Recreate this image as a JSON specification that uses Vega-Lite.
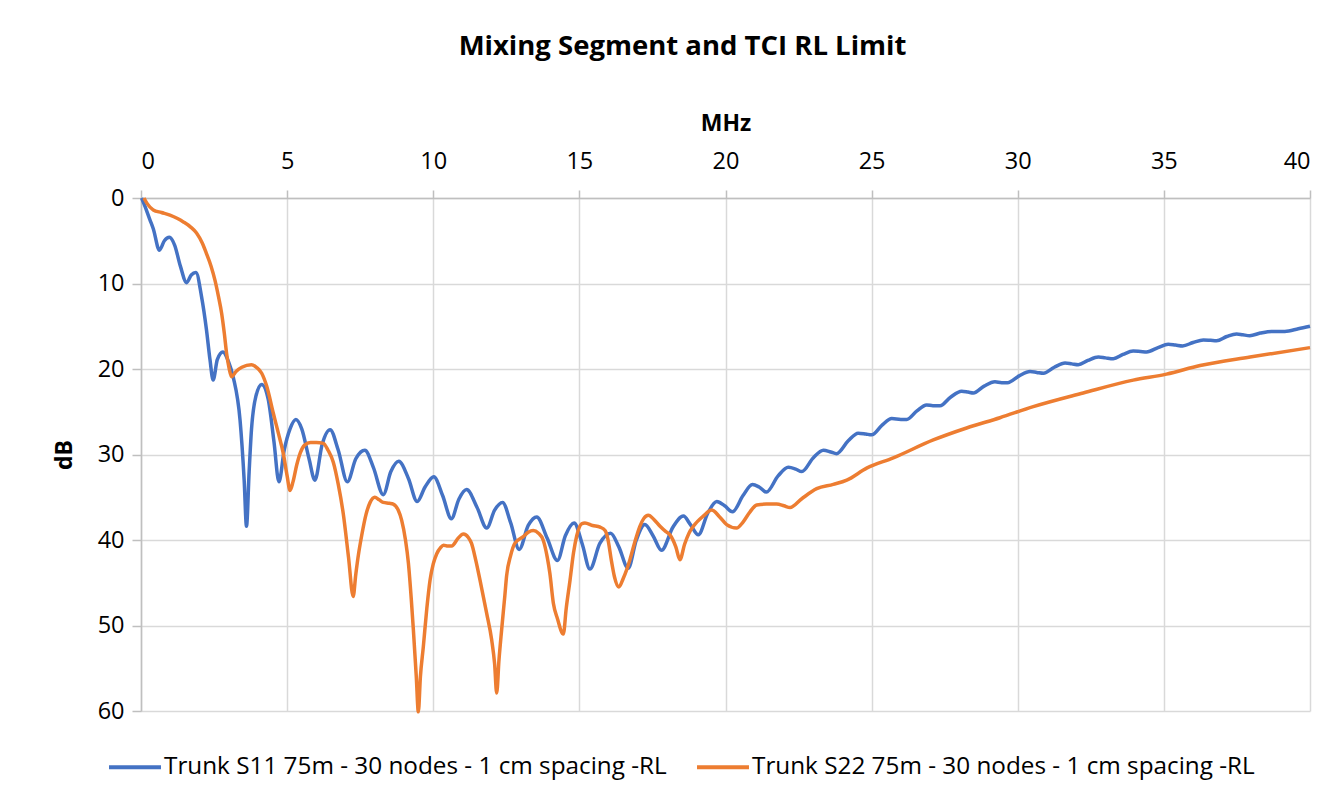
{
  "$schema": "https://vega.github.io/schema/vega-lite/v6.json",
  "autosize": {"type": "none"},
  "padding": {"left": 141, "top": 198, "right": 28, "bottom": 91},
  "width": 1169,
  "height": 513,
  "background": "white",
  "title": {
    "text": "Mixing Segment and TCI RL Limit",
    "font": "Open Sans",
    "fontSize": 27.5,
    "fontWeight": "bold",
    "color": "#000000",
    "anchor": "middle",
    "dx": -43,
    "offset": 52
  },
  "config": {
    "view": {"stroke": null},
    "font": "Open Sans"
  },
  "datasets": {
    "s11": [
      {"f":0.02,"dB":0},{"f":0.14,"dB":1.0},{"f":0.3,"dB":2.5},{"f":0.42,"dB":3.6},{"f":0.63,"dB":6.1},{"f":0.8,"dB":5.0},{"f":0.97,"dB":4.6},{"f":1.15,"dB":5.5},{"f":1.35,"dB":8.0},{"f":1.56,"dB":9.9},{"f":1.72,"dB":9.0},{"f":1.88,"dB":8.7},{"f":2.07,"dB":11.5},{"f":2.24,"dB":15.4},{"f":2.36,"dB":18.9},{"f":2.47,"dB":21.3},{"f":2.61,"dB":18.9},{"f":2.8,"dB":18.0},{"f":3.0,"dB":19.2},{"f":3.16,"dB":21.0},{"f":3.39,"dB":26.0},{"f":3.53,"dB":33.0},{"f":3.61,"dB":38.4},{"f":3.7,"dB":32},{"f":3.78,"dB":27.1},{"f":3.93,"dB":23.2},{"f":4.13,"dB":21.8},{"f":4.35,"dB":23.5},{"f":4.55,"dB":28.5},{"f":4.72,"dB":33.2},{"f":4.9,"dB":29.5},{"f":5.1,"dB":27},{"f":5.3,"dB":25.9},{"f":5.5,"dB":27.0},{"f":5.75,"dB":30.5},{"f":5.95,"dB":33.0},{"f":6.2,"dB":28.8},{"f":6.47,"dB":27.1},{"f":6.75,"dB":29.5},{"f":7.06,"dB":33.2},{"f":7.35,"dB":30.5},{"f":7.66,"dB":29.5},{"f":7.95,"dB":31.5},{"f":8.29,"dB":34.7},{"f":8.55,"dB":32},{"f":8.82,"dB":30.8},{"f":9.15,"dB":32.8},{"f":9.45,"dB":35.5},{"f":9.72,"dB":33.8},{"f":10.02,"dB":32.6},{"f":10.32,"dB":34.8},{"f":10.62,"dB":37.5},{"f":10.88,"dB":35.2},{"f":11.14,"dB":34.1},{"f":11.5,"dB":36.2},{"f":11.83,"dB":38.6},{"f":12.1,"dB":36.5},{"f":12.37,"dB":35.6},{"f":12.65,"dB":38},{"f":12.94,"dB":41.1},{"f":13.25,"dB":38.3},{"f":13.54,"dB":37.3},{"f":13.9,"dB":39.8},{"f":14.25,"dB":42.4},{"f":14.52,"dB":39.5},{"f":14.82,"dB":38.0},{"f":15.1,"dB":40.5},{"f":15.36,"dB":43.4},{"f":15.7,"dB":40.4},{"f":16.07,"dB":39.2},{"f":16.35,"dB":40.8},{"f":16.67,"dB":43.3},{"f":16.95,"dB":40},{"f":17.24,"dB":38.2},{"f":17.52,"dB":39.5},{"f":17.81,"dB":41.2},{"f":18.2,"dB":38.5},{"f":18.56,"dB":37.2},{"f":18.8,"dB":38.2},{"f":19.07,"dB":39.4},{"f":19.4,"dB":36.8},{"f":19.7,"dB":35.5},{"f":19.97,"dB":36.0},{"f":20.24,"dB":36.7},{"f":20.6,"dB":34.8},{"f":20.92,"dB":33.5},{"f":21.15,"dB":33.8},{"f":21.4,"dB":34.4},{"f":21.8,"dB":32.5},{"f":22.15,"dB":31.5},{"f":22.4,"dB":31.7},{"f":22.61,"dB":32.0},{"f":23.0,"dB":30.4},{"f":23.35,"dB":29.5},{"f":23.6,"dB":29.7},{"f":23.8,"dB":29.9},{"f":24.2,"dB":28.4},{"f":24.54,"dB":27.5},{"f":24.8,"dB":27.6},{"f":25.0,"dB":27.7},{"f":25.35,"dB":26.6},{"f":25.69,"dB":25.8},{"f":26.0,"dB":25.9},{"f":26.2,"dB":25.9},{"f":26.55,"dB":24.9},{"f":26.88,"dB":24.2},{"f":27.1,"dB":24.3},{"f":27.34,"dB":24.3},{"f":27.7,"dB":23.3},{"f":28.08,"dB":22.6},{"f":28.3,"dB":22.7},{"f":28.48,"dB":22.8},{"f":28.85,"dB":22.0},{"f":29.22,"dB":21.5},{"f":29.45,"dB":21.6},{"f":29.65,"dB":21.6},{"f":30.05,"dB":20.8},{"f":30.42,"dB":20.3},{"f":30.65,"dB":20.4},{"f":30.88,"dB":20.5},{"f":31.25,"dB":19.8},{"f":31.62,"dB":19.3},{"f":31.85,"dB":19.4},{"f":32.07,"dB":19.5},{"f":32.4,"dB":19.0},{"f":32.76,"dB":18.6},{"f":33.0,"dB":18.7},{"f":33.27,"dB":18.8},{"f":33.6,"dB":18.3},{"f":33.95,"dB":17.9},{"f":34.2,"dB":17.95},{"f":34.41,"dB":18.0},{"f":34.8,"dB":17.5},{"f":35.15,"dB":17.1},{"f":35.4,"dB":17.2},{"f":35.64,"dB":17.3},{"f":36.0,"dB":16.9},{"f":36.35,"dB":16.6},{"f":36.6,"dB":16.65},{"f":36.8,"dB":16.7},{"f":37.15,"dB":16.2},{"f":37.49,"dB":15.9},{"f":37.7,"dB":16.0},{"f":37.94,"dB":16.1},{"f":38.3,"dB":15.8},{"f":38.69,"dB":15.6},{"f":38.9,"dB":15.6},{"f":39.14,"dB":15.6},{"f":39.6,"dB":15.3},{"f":40.0,"dB":15.0}
    ],
    "s22": [
      {"f":0.1,"dB":0},{"f":0.2,"dB":0.6},{"f":0.42,"dB":1.4},{"f":0.7,"dB":1.7},{"f":0.99,"dB":2.0},{"f":1.25,"dB":2.4},{"f":1.45,"dB":2.8},{"f":1.7,"dB":3.4},{"f":1.9,"dB":4.1},{"f":2.1,"dB":5.3},{"f":2.24,"dB":6.5},{"f":2.4,"dB":8.0},{"f":2.53,"dB":9.6},{"f":2.65,"dB":11.5},{"f":2.76,"dB":13.5},{"f":2.85,"dB":15.8},{"f":2.93,"dB":18.2},{"f":3.02,"dB":20.0},{"f":3.1,"dB":20.9},{"f":3.25,"dB":20.3},{"f":3.45,"dB":19.8},{"f":3.78,"dB":19.5},{"f":3.95,"dB":19.8},{"f":4.13,"dB":20.5},{"f":4.3,"dB":22.0},{"f":4.53,"dB":25.2},{"f":4.7,"dB":27.5},{"f":4.87,"dB":29.9},{"f":5.0,"dB":32.5},{"f":5.1,"dB":34.2},{"f":5.2,"dB":33.2},{"f":5.33,"dB":31.2},{"f":5.45,"dB":29.8},{"f":5.6,"dB":28.9},{"f":5.8,"dB":28.6},{"f":6.0,"dB":28.6},{"f":6.24,"dB":28.7},{"f":6.4,"dB":29.5},{"f":6.58,"dB":30.9},{"f":6.75,"dB":33.5},{"f":6.92,"dB":36.9},{"f":7.1,"dB":42},{"f":7.26,"dB":46.6},{"f":7.35,"dB":44},{"f":7.45,"dB":41.5},{"f":7.55,"dB":39.5},{"f":7.7,"dB":37.0},{"f":7.84,"dB":35.6},{"f":8.0,"dB":35.0},{"f":8.15,"dB":35.3},{"f":8.29,"dB":35.6},{"f":8.5,"dB":35.7},{"f":8.63,"dB":35.8},{"f":8.8,"dB":36.5},{"f":8.92,"dB":37.7},{"f":9.05,"dB":40},{"f":9.15,"dB":42.7},{"f":9.25,"dB":47},{"f":9.32,"dB":50.5},{"f":9.42,"dB":56},{"f":9.49,"dB":60.1},{"f":9.56,"dB":56},{"f":9.66,"dB":52.5},{"f":9.78,"dB":48},{"f":9.89,"dB":44.7},{"f":10.0,"dB":42.8},{"f":10.12,"dB":41.6},{"f":10.25,"dB":40.9},{"f":10.35,"dB":40.6},{"f":10.5,"dB":40.7},{"f":10.63,"dB":40.7},{"f":10.85,"dB":39.8},{"f":11.03,"dB":39.3},{"f":11.2,"dB":39.7},{"f":11.31,"dB":40.4},{"f":11.45,"dB":42.3},{"f":11.6,"dB":44.7},{"f":11.83,"dB":48.6},{"f":12.0,"dB":51.7},{"f":12.1,"dB":54.5},{"f":12.17,"dB":57.9},{"f":12.25,"dB":54},{"f":12.34,"dB":50.5},{"f":12.45,"dB":46.5},{"f":12.51,"dB":44.2},{"f":12.65,"dB":41.8},{"f":12.79,"dB":40.4},{"f":13.08,"dB":39.6},{"f":13.25,"dB":39.1},{"f":13.42,"dB":38.9},{"f":13.6,"dB":39.2},{"f":13.76,"dB":40.0},{"f":13.9,"dB":42},{"f":13.99,"dB":43.9},{"f":14.11,"dB":47.4},{"f":14.25,"dB":49.2},{"f":14.45,"dB":51.0},{"f":14.55,"dB":48},{"f":14.68,"dB":44.7},{"f":14.8,"dB":41.5},{"f":14.91,"dB":39.5},{"f":15.08,"dB":38.1},{"f":15.19,"dB":38.0},{"f":15.45,"dB":38.3},{"f":15.71,"dB":38.5},{"f":15.88,"dB":38.9},{"f":15.97,"dB":39.8},{"f":16.1,"dB":42.5},{"f":16.2,"dB":44.3},{"f":16.35,"dB":45.5},{"f":16.5,"dB":44.5},{"f":16.73,"dB":42.3},{"f":16.9,"dB":40.2},{"f":17.07,"dB":38.4},{"f":17.2,"dB":37.5},{"f":17.36,"dB":37.1},{"f":17.55,"dB":37.6},{"f":17.76,"dB":38.4},{"f":17.95,"dB":39.0},{"f":18.1,"dB":39.4},{"f":18.3,"dB":40.8},{"f":18.44,"dB":42.3},{"f":18.6,"dB":40.5},{"f":18.75,"dB":39.2},{"f":18.9,"dB":38.4},{"f":19.24,"dB":37.2},{"f":19.53,"dB":36.5},{"f":19.8,"dB":37.3},{"f":20.04,"dB":38.2},{"f":20.38,"dB":38.6},{"f":20.6,"dB":37.9},{"f":20.84,"dB":36.7},{"f":21.07,"dB":35.9},{"f":21.4,"dB":35.8},{"f":21.75,"dB":35.8},{"f":22.0,"dB":36.0},{"f":22.21,"dB":36.2},{"f":22.6,"dB":35.2},{"f":23.12,"dB":34.0},{"f":23.69,"dB":33.5},{"f":24.15,"dB":33.0},{"f":24.83,"dB":31.6},{"f":25.74,"dB":30.4},{"f":27.11,"dB":28.3},{"f":28.25,"dB":26.9},{"f":29.39,"dB":25.7},{"f":30.53,"dB":24.4},{"f":32.24,"dB":22.8},{"f":33.95,"dB":21.3},{"f":35.09,"dB":20.6},{"f":36.24,"dB":19.6},{"f":37.95,"dB":18.6},{"f":40.0,"dB":17.5}
    ]
  },
  "layer": [
    {
      "data": {"name": "s11"},
      "transform": [{"calculate": "'Trunk S11 75m - 30 nodes - 1 cm spacing -RL'", "as": "series"}],
      "mark": {"type": "line", "interpolate": "monotone", "strokeWidth": 3.5},
      "encoding": {
        "x": {"field": "f", "type": "quantitative"},
        "y": {"field": "dB", "type": "quantitative"},
        "color": {"field": "series", "type": "nominal"}
      }
    },
    {
      "data": {"name": "s22"},
      "transform": [{"calculate": "'Trunk S22 75m - 30 nodes - 1 cm spacing -RL'", "as": "series"}],
      "mark": {"type": "line", "interpolate": "monotone", "strokeWidth": 3.5},
      "encoding": {
        "x": {"field": "f", "type": "quantitative"},
        "y": {"field": "dB", "type": "quantitative"},
        "color": {"field": "series", "type": "nominal"}
      }
    }
  ],
  "resolve": {"scale": {"x": "shared", "y": "shared", "color": "shared"}},
  "encoding": {
    "x": {
      "field": "f", "type": "quantitative",
      "scale": {"domain": [0, 40], "nice": false, "zero": true},
      "axis": {
        "orient": "top", "title": "MHz", "values": [0,5,10,15,20,25,30,35,40],
        "titleFont": "Open Sans", "titleFontSize": 23, "titleFontWeight": "bold", "titleColor": "#000000",
        "titlePadding": 14,
        "labelFont": "Open Sans", "labelFontSize": 23.5, "labelColor": "#000000", "labelPadding": 17,
        "tickSize": 8, "tickColor": "#bfbfbf", "tickWidth": 1.5,
        "domainColor": "#bfbfbf", "domainWidth": 1.5,
        "grid": true, "gridColor": "#d9d9d9", "gridWidth": 1.5
      }
    },
    "y": {
      "field": "dB", "type": "quantitative",
      "scale": {"domain": [0, 60], "nice": false, "reverse": true},
      "axis": {
        "orient": "left", "title": "dB", "values": [0,10,20,30,40,50,60],
        "titleFont": "Open Sans", "titleFontSize": 23, "titleFontWeight": "bold", "titleColor": "#000000",
        "titlePadding": 21,
        "labelFont": "Open Sans", "labelFontSize": 23.5, "labelColor": "#000000", "labelPadding": 8,
        "tickSize": 9, "tickColor": "#bfbfbf", "tickWidth": 1.5,
        "domainColor": "#bfbfbf", "domainWidth": 1.5,
        "grid": true, "gridColor": "#d9d9d9", "gridWidth": 1.5
      }
    },
    "color": {
      "field": "series", "type": "nominal",
      "scale": {
        "domain": ["Trunk S11 75m - 30 nodes - 1 cm spacing -RL", "Trunk S22 75m - 30 nodes - 1 cm spacing -RL"],
        "range": ["#4472C4", "#ED7D31"]
      },
      "legend": {
        "orient": "none", "legendX": -34, "legendY": 541, "direction": "horizontal",
        "title": null, "symbolType": "stroke", "symbolSize": 2700, "symbolStrokeWidth": 4,
        "labelFont": "Open Sans", "labelFontSize": 24.3, "labelColor": "#000000", "labelLimit": 0,
        "labelOffset": 1, "columnPadding": 22
      }
    }
  }
}
